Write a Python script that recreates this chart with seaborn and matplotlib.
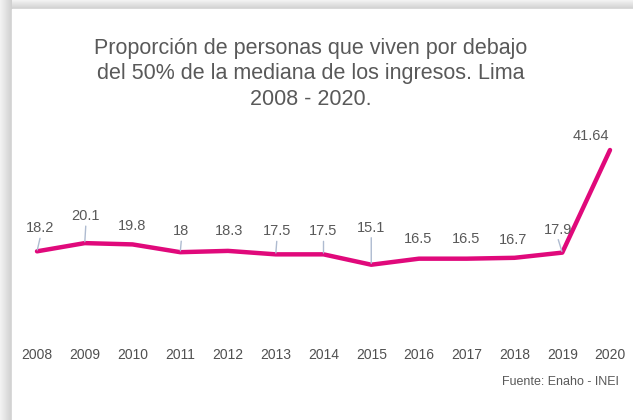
import numpy as np
import pandas as pd
import matplotlib
matplotlib.use("Agg")
import matplotlib.pyplot as plt
import seaborn as sns
from matplotlib.colors import LinearSegmentedColormap

# Data: share of people living below 50% of the median income, Lima
years = [2008, 2009, 2010, 2011, 2012, 2013, 2014, 2015, 2016, 2017, 2018, 2019, 2020]
values = [18.2, 20.1, 19.8, 18.0, 18.3, 17.5, 17.5, 15.1, 16.5, 16.5, 16.7, 17.9, 41.64]
value_labels = ["18.2", "20.1", "19.8", "18", "18.3", "17.5", "17.5", "15.1",
                "16.5", "16.5", "16.7", "17.9", "41.64"]
title = "Proporción de personas que viven por debajo\ndel 50% de la mediana de los ingresos. Lima\n2008 - 2020."
source = "Fuente: Enaho - INEI"

# Label placement (pixel offsets from each point) and whether a leader line is drawn
label_offsets = [(3, 23), (1, 27), (0, 18), (1, 21), (1, 20), (1, 23), (0, 23),
                 (0, 37), (-1, 20), (-1, 20), (-1, 18), (-4, 23), (-19, 14)]
leaders = [True, True, False, True, False, True, True,
           True, False, False, False, True, False]

sns.set_theme(style="white")
plt.rcParams["font.family"] = ["Liberation Sans", "DejaVu Sans"]

W, H = 633, 420
fig = plt.figure(figsize=(W / 100, H / 100), dpi=100)
fig.patch.set_facecolor("white")

# Card shadow along the top and left edges
bg = fig.add_axes([0, 0, 1, 1], zorder=-10)
bg.set_xlim(0, W)
bg.set_ylim(H, 0)
bg.axis("off")
shade = LinearSegmentedColormap.from_list("shade", ["#f4f4f4", "#cfcfcf"])
bg.imshow(np.linspace(0.0, 1.0, 40).reshape(-1, 1), extent=(0, W, 9, 0),
          cmap=shade, aspect="auto", interpolation="bilinear")
bg.imshow(np.linspace(0.0, 1.0, 40).reshape(1, -1), extent=(0, 12, H, 0),
          cmap=shade, aspect="auto", interpolation="bilinear")
bg.add_patch(plt.Rectangle((12, 9), W - 12, H - 9, color="white", zorder=2))

# Main plot area
x0, x1 = 37, 610
y_bottom = 330
y_top = 150
ax = fig.add_axes([x0 / W, (H - y_bottom) / H, (x1 - x0) / W, (y_bottom - y_top) / H])
ax.set_facecolor("none")

df = pd.DataFrame({"year": years, "value": values})
sns.lineplot(data=df, x="year", y="value", ax=ax, color="#e0097b",
             linewidth=3.2, solid_capstyle="round", solid_joinstyle="round")
for ln in ax.lines:
    ln.set_clip_on(False)

ax.set_xlim(years[0], years[-1])
ax.set_ylim(0, max(values))
for s in ax.spines.values():
    s.set_visible(False)
ax.set_yticks([])
ax.set_xticks(years)
ax.set_xticklabels([str(y) for y in years], fontsize=10, color="#505050")
ax.tick_params(axis="x", length=0, pad=13)
ax.set_xlabel("")
ax.set_ylabel("")

for x, y, lab, (dx, dy), lead in zip(years, values, value_labels, label_offsets, leaders):
    ax.annotate(lab, xy=(x, y), xytext=(dx, dy), textcoords="offset pixels",
                ha="center", va="center", fontsize=10.5, color="#595959",
                annotation_clip=False)
    if lead:
        ax.annotate("", xy=(x, y), xytext=(dx, dy - 10), textcoords="offset pixels",
                    arrowprops=dict(arrowstyle="-", color="#aebbd0", lw=1.0,
                                    shrinkA=0, shrinkB=1),
                    annotation_clip=False)

fig.text(311 / W, 1 - 74 / H, title, ha="center", va="center", fontsize=15.5,
         color="#595959", linespacing=1.26)
fig.text(619 / W, 1 - 382 / H, source, ha="right", va="center", fontsize=9,
         color="#595959")

fig.savefig("out.png", dpi=100)
